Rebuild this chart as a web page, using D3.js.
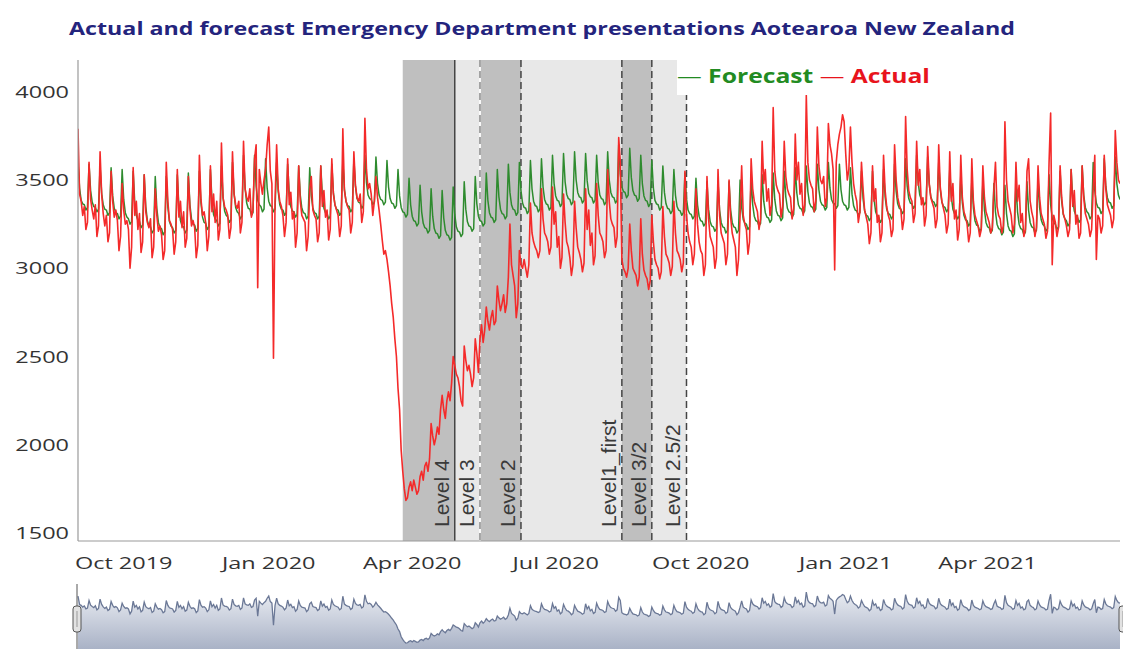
<!DOCTYPE html>
<html>
<head>
<meta charset="utf-8">
<script src="https://cdn.jsdelivr.net/npm/d3@7"></script>
<style>
  body { margin: 0; background: #fff; }
  svg { display: block; }
</style>
</head>
<body>
<svg id="chart" width="1123" height="649"></svg>
<script>
// Daily series start on this Monday; each row below is one week (Mon..Sun).
const firstDay = "2019-09-02";

const forecastWeeks = [
  [3600,3455,3385,3365,3360,3330,3345],[3590,3440,3375,3350,3345,3320,3335],
  [3580,3425,3360,3335,3330,3300,3315],[3570,3410,3340,3315,3310,3280,3295],
  [3560,3390,3315,3290,3280,3250,3265],[3550,3375,3300,3270,3265,3230,3245],
  [3530,3350,3270,3240,3235,3200,3215],[3520,3340,3260,3230,3225,3190,3205],
  [3520,3345,3265,3240,3230,3200,3215],[3530,3350,3270,3240,3235,3200,3215],
  [3540,3360,3280,3250,3245,3210,3225],[3550,3370,3290,3260,3255,3220,3235],
  [3560,3385,3305,3280,3270,3240,3255],[3580,3405,3325,3300,3290,3260,3275],
  [3600,3425,3345,3320,3310,3280,3295],[3640,3455,3370,3340,3335,3300,3315],
  [3640,3465,3385,3360,3350,3320,3335],[3620,3455,3380,3355,3350,3320,3335],
  [3600,3435,3360,3335,3330,3300,3315],[3590,3425,3350,3325,3320,3290,3305],
  [3580,3415,3340,3315,3310,3280,3295],[3570,3410,3340,3315,3310,3280,3295],
  [3580,3415,3340,3315,3310,3280,3295],[3590,3430,3360,3335,3330,3300,3315],
  [3610,3450,3380,3355,3350,3320,3335],[3620,3465,3395,3375,3370,3340,3355],
  [3640,3485,3415,3395,3390,3360,3375],[3630,3480,3415,3390,3385,3360,3375],
  [3610,3460,3395,3370,3365,3340,3355],[3560,3410,3345,3320,3315,3290,3305],
  [3510,3360,3295,3270,3265,3240,3255],[3470,3320,3255,3230,3225,3200,3215],
  [3450,3295,3225,3200,3195,3170,3185],[3440,3285,3215,3190,3185,3160,3175],
  [3460,3305,3235,3210,3205,3180,3195],[3490,3335,3265,3240,3235,3210,3225],
  [3520,3365,3295,3270,3265,3240,3255],[3540,3385,3315,3290,3285,3260,3275],
  [3560,3405,3335,3310,3305,3280,3295],[3590,3430,3360,3335,3330,3300,3315],
  [3600,3440,3370,3345,3340,3310,3325],[3610,3450,3380,3355,3350,3320,3335],
  [3620,3460,3390,3365,3360,3330,3345],[3640,3480,3410,3385,3380,3350,3365],
  [3650,3490,3420,3395,3390,3360,3375],[3660,3500,3430,3405,3400,3370,3385],
  [3650,3495,3425,3405,3400,3370,3385],[3640,3485,3415,3395,3390,3360,3375],
  [3660,3500,3430,3405,3400,3370,3385],[3700,3535,3460,3435,3430,3400,3415],
  [3680,3515,3440,3415,3410,3380,3395],[3640,3480,3410,3385,3380,3350,3365],
  [3610,3455,3385,3365,3360,3330,3345],[3580,3430,3365,3340,3335,3310,3325],
  [3560,3415,3350,3330,3325,3300,3315],[3540,3395,3330,3310,3305,3280,3295],
  [3510,3360,3295,3270,3265,3240,3255],[3490,3335,3265,3240,3235,3210,3225],
  [3490,3330,3260,3235,3230,3200,3215],[3490,3330,3260,3235,3230,3200,3215],
  [3500,3345,3275,3255,3250,3220,3235],[3510,3360,3295,3270,3265,3240,3255],
  [3530,3380,3315,3290,3285,3260,3275],[3540,3390,3325,3300,3295,3270,3285],
  [3550,3405,3340,3320,3315,3290,3305],[3570,3425,3360,3340,3335,3310,3325],
  [3580,3435,3370,3350,3345,3320,3335],[3590,3445,3380,3360,3355,3330,3345],
  [3600,3455,3390,3370,3365,3340,3355],[3590,3445,3380,3360,3355,3330,3345],
  [3570,3420,3355,3330,3325,3300,3315],[3550,3395,3325,3300,3295,3270,3285],
  [3550,3390,3320,3295,3290,3260,3275],[3560,3405,3335,3310,3305,3280,3295],
  [3590,3435,3365,3340,3335,3310,3325],[3620,3465,3395,3370,3365,3340,3355],
  [3640,3485,3415,3390,3385,3360,3375],[3630,3475,3405,3380,3375,3350,3365],
  [3600,3445,3375,3350,3345,3320,3335],[3560,3405,3335,3310,3305,3280,3295],
  [3530,3370,3300,3275,3270,3240,3255],[3500,3340,3270,3245,3240,3210,3225],
  [3490,3330,3260,3235,3230,3200,3215],[3480,3320,3250,3225,3220,3190,3205],
  [3470,3310,3240,3215,3210,3180,3195],[3480,3320,3250,3225,3220,3190,3205],
  [3490,3330,3260,3235,3230,3200,3215],[3510,3345,3275,3250,3240,3210,3225],
  [3530,3360,3285,3260,3250,3220,3235],[3550,3380,3305,3280,3270,3240,3255],
  [3560,3395,3325,3300,3290,3260,3275],[3580,3415,3345,3320,3310,3280,3295],
  [3600,3440,3370,3345,3340,3310,3325],[3620,3465,3400,3375,3370,3340,3355],
  [3630,3480,3415,3390]
];

const actualWeeks = [
  [3790,3420,3380,3300,3350,3220,3260],[3600,3390,3330,3280,3360,3180,3240],
  [3660,3420,3310,3240,3300,3150,3200],[3550,3380,3290,3330,3270,3100,3180],
  [3480,3330,3250,3270,3220,3000,3120],[3570,3300,3380,3220,3310,3090,3150],
  [3530,3320,3260,3230,3280,3060,3120],[3450,3300,3210,3240,3190,3050,3100],
  [3600,3380,3270,3250,3220,3080,3150],[3560,3290,3380,3230,3320,3120,3170],
  [3520,3340,3240,3270,3230,3060,3130],[3640,3390,3300,3320,3260,3100,3180],
  [3580,3320,3420,3260,3380,3160,3220],[3710,3400,3350,3330,3300,3170,3230],
  [3660,3420,3360,3340,3380,3200,3260],[3720,3450,3400,3380,3450,3290,3330],
  [3620,3700,2890,3560,3480,3420,3500],[3560,3700,3800,3550,3480,2490,3380],
  [3700,3450,3380,3350,3300,3180,3260],[3620,3360,3430,3280,3320,3120,3200],
  [3580,3380,3300,3280,3260,3100,3180],[3450,3520,3330,3300,3280,3150,3200],
  [3580,3350,3440,3290,3330,3160,3220],[3620,3420,3360,3330,3300,3180,3240],
  [3790,3440,3380,3350,3330,3200,3260],[3660,3470,3400,3380,3420,3260,3320],
  [3850,3560,3450,3480,3420,3300,3380],[3520,3400,3330,3250,3160,3080,3100],
  [3050,2980,2900,2800,2720,2600,2500],[2320,2200,1970,1850,1750,1685,1700],
  [1760,1790,1740,1800,1760,1720,1740],[1820,1850,1800,1880,1900,1850,1920],
  [2120,2050,2000,2040,2100,2060,2200],[2280,2200,2150,2250,2300,2250,2350],
  [2500,2450,2400,2380,2330,2250,2220],[2560,2480,2420,2450,2400,2330,2380],
  [2600,2520,2410,2600,2680,2580,2650],[2780,2700,2650,2720,2760,2680,2700],
  [2900,2820,2760,2800,2850,2750,2800],[2950,3250,3020,2960,2900,2720,2800],
  [3100,3020,3000,3050,3000,2950,3020],[3370,3200,3150,3120,3100,3060,3100],
  [3450,3280,3200,3180,3150,3080,3120],[3460,3250,3320,3120,3180,3000,3060],
  [3420,3260,3150,3120,3060,2960,3020],[3380,3230,3120,3090,3050,2980,3030],
  [3450,3220,3330,3130,3200,3020,3070],[3480,3300,3200,3180,3150,3060,3100],
  [3560,3380,3280,3250,3230,3120,3180],[3740,3600,3050,3000,2980,2950,3000],
  [3250,3100,3000,2980,2960,2900,2950],[3280,3080,2990,2960,2940,2880,2930],
  [3300,3150,3050,3020,3000,2940,2980],[3350,3180,3080,3060,3030,2960,3010],
  [3380,3200,3100,3080,3050,2980,3030],[3550,3300,3200,3150,3120,3020,3080],
  [3450,3250,3150,3100,3080,2960,3020],[3520,3280,3180,3150,3120,3000,3060],
  [3560,3300,3200,3170,3140,3020,3080],[3500,3290,3200,3160,3120,2960,3050],
  [3300,3580,3300,3250,3220,3080,3150],[3620,3450,3380,3350,3320,3220,3280],
  [3720,3480,3560,3380,3450,3300,3360],[3910,3550,3470,3440,3420,3290,3350],
  [3720,3520,3450,3420,3400,3280,3340],[3760,3500,3600,3420,3480,3300,3360],
  [3980,3600,3500,3470,3450,3320,3380],[3800,3580,3500,3480,3520,3350,3400],
  [3820,3700,3650,3560,2990,3600,3700],[3760,3800,3870,3830,3650,3500,3560],
  [3800,3600,3480,3420,3380,3260,3320],[3600,3450,3330,3290,3250,3140,3200],
  [3580,3380,3450,3260,3300,3150,3200],[3640,3440,3350,3300,3270,3180,3220],
  [3700,3500,3400,3360,3330,3220,3280],[3860,3560,3440,3400,3380,3260,3310],
  [3720,3470,3560,3360,3400,3240,3300],[3690,3480,3400,3370,3340,3230,3280],
  [3700,3460,3380,3340,3300,3200,3250],[3660,3380,3480,3280,3330,3160,3220],
  [3640,3400,3320,3290,3250,3150,3200],[3620,3380,3300,3270,3240,3180,3220],
  [3580,3400,3320,3290,3260,3200,3230],[3450,3600,3350,3300,3280,3200,3240],
  [3830,3500,3380,3340,3300,3200,3250],[3600,3380,3470,3260,3310,3180,3220],
  [3550,3620,3380,3320,3280,3180,3230],[3580,3400,3310,3280,3250,3170,3210],
  [3600,3880,3020,3300,3260,3180,3230],[3580,3400,3310,3280,3240,3180,3220],
  [3560,3350,3440,3250,3300,3170,3200],[3580,3400,3310,3280,3250,3180,3220],
  [3450,3640,3050,3300,3280,3200,3240],[3640,3450,3360,3330,3300,3230,3280],
  [3780,3600,3500,3480]
];

// Alert level periods (each label marks the end of its period)
const levelLabels = ["Level 4", "Level 3", "Level 2", "Level1_first", "Level 3/2", "Level 2.5/2"];
const levelStarts = ["2020-03-26", "2020-04-28", "2020-05-14", "2020-06-09", "2020-08-12", "2020-08-31"];
const levelEnds   = ["2020-04-28", "2020-05-14", "2020-06-09", "2020-08-12", "2020-08-31", "2020-09-22"];

const yTickValues = [1500, 2000, 2500, 3000, 3500, 4000];
const xTickDates  = ["2019-10-01", "2020-01-01", "2020-04-01", "2020-07-01", "2020-10-01", "2021-01-01", "2021-04-01"];
const xTickLabels = ["Oct 2019", "Jan 2020", "Apr 2020", "Jul 2020", "Oct 2020", "Jan 2021", "Apr 2021"];

const titleText = "Actual and forecast Emergency Department presentations Aotearoa New Zealand";
const seriesNames = ["Forecast", "Actual"];

// ---- build daily records ----
const parse = d3.timeParse("%Y-%m-%d");
const day0 = parse(firstDay);
const forecast = forecastWeeks.flat();
const actual = actualWeeks.flat();
const rows = forecast.map((f, i) => ({ date: d3.timeDay.offset(day0, i), forecast: f, actual: actual[i] }));

// ---- layout ----
const W = 1123, H = 649;
const plot = { left: 78, right: 1120, top: 60, bottom: 541 };
const mini = { top: 588, bottom: 649 };
const textStretch = 1.38;

const svg = d3.select("#chart");
svg.append("rect").attr("width", W).attr("height", H).attr("fill", "#fff");

const x = d3.scaleTime()
  .domain(d3.extent(rows, d => d.date))
  .range([plot.left, plot.right]);
const y = d3.scaleLinear()
  .domain([1455, 4180])
  .range([plot.bottom, plot.top]);

const defs = svg.append("defs");
defs.append("clipPath").attr("id", "plotClip")
  .append("rect").attr("x", plot.left).attr("y", plot.top)
  .attr("width", plot.right - plot.left).attr("height", plot.bottom - plot.top);

// ---- alert level shading ----
const levels = levelLabels.map((label, i) => ({
  label, start: parse(levelStarts[i]), end: parse(levelEnds[i]), i
}));
const shadeG = svg.append("g");
shadeG.selectAll("rect").data(levels).join("rect")
  .attr("x", d => x(d.start))
  .attr("y", plot.top)
  .attr("width", d => x(d.end) - x(d.start))
  .attr("height", plot.bottom - plot.top)
  .attr("fill", d => d.i % 2 === 0 ? "#bfbfbf" : "#e8e8e8");

// boundary lines at the end of each period
const lineG = svg.append("g");
levels.forEach(d => {
  const xe = x(d.end);
  if (d.i === 0) {
    lineG.append("line").attr("x1", xe).attr("x2", xe).attr("y1", plot.top).attr("y2", plot.bottom)
      .attr("stroke", "#444").attr("stroke-width", 1.5);
  } else if (d.i === 1) {
    lineG.append("line").attr("x1", xe).attr("x2", xe).attr("y1", plot.top).attr("y2", plot.bottom)
      .attr("stroke", "#fafafa").attr("stroke-width", 2);
    lineG.append("line").attr("x1", xe).attr("x2", xe).attr("y1", plot.top).attr("y2", plot.bottom)
      .attr("stroke", "#8a8a8a").attr("stroke-width", 1.5).attr("stroke-dasharray", "7,4");
  } else {
    lineG.append("line").attr("x1", xe).attr("x2", xe).attr("y1", plot.top).attr("y2", plot.bottom)
      .attr("stroke", "#444").attr("stroke-width", 1.5).attr("stroke-dasharray", "7,4");
  }
});

// ---- series lines ----
const lineF = d3.line().x(d => x(d.date)).y(d => y(d.forecast));
const lineA = d3.line().x(d => x(d.date)).y(d => y(d.actual));
const seriesG = svg.append("g").attr("clip-path", "url(#plotClip)");
seriesG.append("path").datum(rows).attr("d", lineF)
  .attr("fill", "none").attr("stroke", "#2e8b2e").attr("stroke-width", 1.5).attr("stroke-linejoin", "round");
seriesG.append("path").datum(rows).attr("d", lineA)
  .attr("fill", "none").attr("stroke", "#f42a2a").attr("stroke-width", 1.6).attr("stroke-linejoin", "round");

// ---- level labels (rotated, reading upward) ----
const labelG = svg.append("g");
levels.forEach(d => {
  labelG.append("text")
    .attr("transform", `translate(${x(d.end) - 6},${plot.bottom - 14}) rotate(-90)`)
    .attr("font-family", "'Liberation Sans', Arial, sans-serif")
    .attr("font-size", 21)
    .attr("fill", "#3a3a3a")
    .text(d.label);
});

// ---- axes ----
const axisG = svg.append("g");
axisG.append("line").attr("x1", plot.left).attr("x2", plot.left)
  .attr("y1", plot.top).attr("y2", plot.bottom).attr("stroke", "#9a9a9a").attr("stroke-width", 1.2);
axisG.append("line").attr("x1", plot.left).attr("x2", plot.right)
  .attr("y1", plot.bottom).attr("y2", plot.bottom).attr("stroke", "#9a9a9a").attr("stroke-width", 1.2);

const labelFont = "'Open Sans', 'Noto Sans', sans-serif";
yTickValues.forEach(v => {
  axisG.append("text")
    .attr("transform", `translate(69,${y(v) + 6}) scale(${textStretch},1)`)
    .attr("text-anchor", "end")
    .attr("font-family", labelFont).attr("font-size", 17).attr("fill", "#333")
    .text(d3.format("d")(v));
});
xTickDates.forEach((s, i) => {
  axisG.append("text")
    .attr("transform", `translate(${x(parse(s))},569) scale(${textStretch},1)`)
    .attr("text-anchor", "middle")
    .attr("font-family", labelFont).attr("font-size", 17).attr("fill", "#333")
    .text(xTickLabels[i]);
});

// ---- title ----
const title = svg.append("text")
  .attr("font-family", labelFont).attr("font-weight", 700).attr("font-size", 17)
  .attr("fill", "#24247d").text(titleText);
{
  const w = title.node().getComputedTextLength();
  title.attr("transform", `translate(69,35) scale(${946 / w},1)`);
}

// ---- legend ----
svg.append("rect").attr("x", 677).attr("y", plot.top).attr("width", 262).attr("height", 35).attr("fill", "#fff");
const legend = svg.append("text")
  .attr("font-family", labelFont).attr("font-weight", 700).attr("font-size", 19);
legend.append("tspan").attr("fill", "#228b22").attr("font-weight", 400).text("\u2014 ");
legend.append("tspan").attr("fill", "#228b22").text(seriesNames[0] + " ");
legend.append("tspan").attr("fill", "#e8141c").attr("font-weight", 400).text("\u2014 ");
legend.append("tspan").attr("fill", "#e8141c").text(seriesNames[1]);
{
  const w = legend.node().getComputedTextLength();
  legend.attr("transform", `translate(677,83) scale(${253 / w},1)`);
}

// ---- range selector (overview of actual presentations) ----
const grad = defs.append("linearGradient").attr("id", "miniFill")
  .attr("x1", 0).attr("y1", 0).attr("x2", 0).attr("y2", 1);
grad.append("stop").attr("offset", "0%").attr("stop-color", "#e9ecf2");
grad.append("stop").attr("offset", "100%").attr("stop-color", "#a9b2c6");

const yMini = d3.scaleLinear().domain([1420, 4160]).range([mini.bottom, mini.top]);
const miniG = svg.append("g");
miniG.append("path").datum(rows)
  .attr("d", d3.area().x(d => x(d.date)).y0(mini.bottom).y1(d => yMini(d.actual)))
  .attr("fill", "url(#miniFill)");
miniG.append("path").datum(rows)
  .attr("d", d3.line().x(d => x(d.date)).y(d => yMini(d.actual)))
  .attr("fill", "none").attr("stroke", "#6b7896").attr("stroke-width", 1.3);
miniG.append("line").attr("x1", plot.left - 1).attr("x2", plot.left - 1)
  .attr("y1", mini.top - 4).attr("y2", H).attr("stroke", "#555").attr("stroke-width", 1);
[plot.left - 4, plot.right].forEach(hx => {
  miniG.append("rect").attr("x", hx - 1).attr("y", 606).attr("width", 8).attr("height", 26)
    .attr("rx", 3).attr("fill", "#e2e2e2").attr("stroke", "#555").attr("stroke-width", 1);
  miniG.append("line").attr("x1", hx + 3).attr("x2", hx + 3).attr("y1", 611).attr("y2", 627)
    .attr("stroke", "#999").attr("stroke-width", 1);
});
</script>
</body>
</html>
